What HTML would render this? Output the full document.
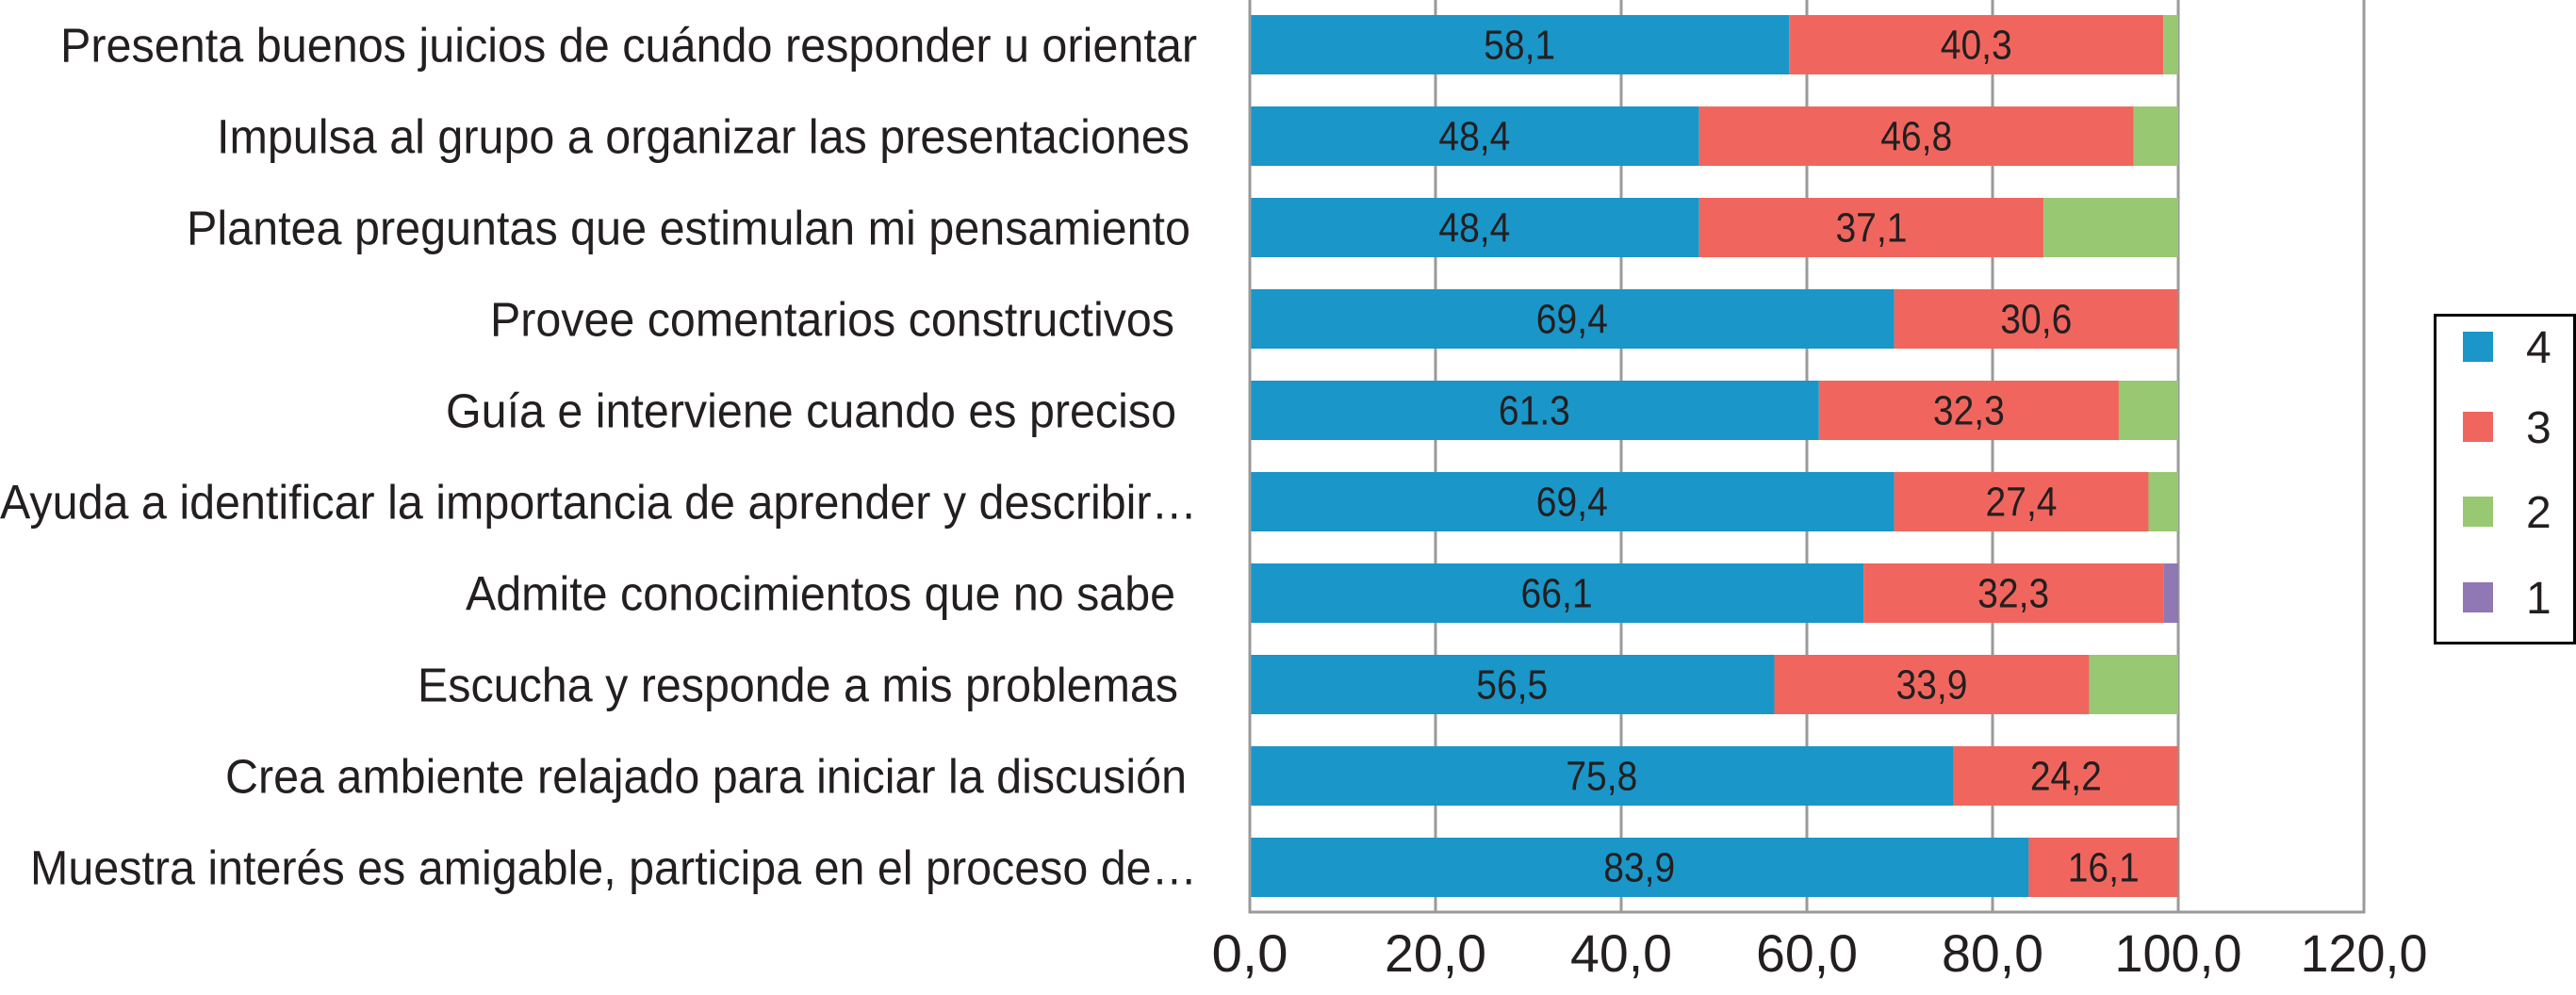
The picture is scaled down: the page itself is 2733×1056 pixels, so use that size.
<!DOCTYPE html>
<html><head><meta charset="utf-8">
<style>
html,body{margin:0;padding:0;background:#fff;}
svg{display:block;font-family:"Liberation Sans",sans-serif;}
</style></head>
<body>
<svg id="chart" width="2733" height="1056" viewBox="0 0 2733 1056" xmlns="http://www.w3.org/2000/svg">
<g id="grid"></g>
<g id="bars"></g>
<g id="axes"></g>
<g id="cats"></g>
<g id="ticks"></g>
<g id="legend">
  <rect x="2583.5" y="334.5" width="148" height="348" fill="#fff" stroke="#000" stroke-width="3"/>
</g>
</svg>
<script>
const categories = [
  "Presenta buenos juicios de cuándo responder u orientar",
  "Impulsa al grupo a organizar las presentaciones",
  "Plantea preguntas que estimulan mi pensamiento",
  "Provee comentarios constructivos",
  "Guía e interviene cuando es preciso",
  "Ayuda a identificar la importancia de aprender y describir…",
  "Admite conocimientos que no sabe",
  "Escucha y responde a mis problemas",
  "Crea ambiente relajado para iniciar la discusión",
  "Muestra interés es amigable, participa en el proceso de…"
];
const series4 = [58.1, 48.4, 48.4, 69.4, 61.3, 69.4, 66.1, 56.5, 75.8, 83.9];
const series3 = [40.3, 46.8, 37.1, 30.6, 32.3, 27.4, 32.3, 33.9, 24.2, 16.1];
const series2 = [1.6, 4.8, 14.5, 0, 6.4, 3.2, 0, 9.6, 0, 0];
const series1 = [0, 0, 0, 0, 0, 0, 1.6, 0, 0, 0];
const labels4 = ["58,1","48,4","48,4","69,4","61.3","69,4","66,1","56,5","75,8","83,9"];
const labels3 = ["40,3","46,8","37,1","30,6","32,3","27,4","32,3","33,9","24,2","16,1"];
const tickValues = [0, 20, 40, 60, 80, 100, 120];
const tickLabels = ["0,0","20,0","40,0","60,0","80,0","100,0","120,0"];
const legendNames = ["4","3","2","1"];

const NS = "http://www.w3.org/2000/svg";
const X0 = 1326, PXU = 9.85, AXISY = 968;
const colors = ["#1a96c8","#f0665e","#98c872","#8f78b4"];
const catLeft  = [64,230,198,520,473,0,494,443,239,32];
const catRight = [1270,1262,1263,1246,1248,1270,1247,1250,1259,1270];
function x(v){ return X0 + v*PXU; }
function yTop(i){ return 16 + i*97; }
const BH = 63;
function mk(tag, attrs, parent){
  const el = document.createElementNS(NS, tag);
  for (const k in attrs) el.setAttribute(k, attrs[k]);
  parent.appendChild(el);
  return el;
}
const grid = document.getElementById('grid');
tickValues.forEach(v=>{
  const l = mk('line',{x1:x(v),x2:x(v),y1:0,y2:AXISY,stroke:'#9a9a9a','stroke-width':3},grid);
  
  
});
const bars = document.getElementById('bars');
const allSeries = [series4, series3, series2, series1];
const segNames = ['bar-4','bar-3','bar-2','bar-1'];
categories.forEach((c,i)=>{
  let acc = 0;
  allSeries.forEach((s,k)=>{
    const v = s[i];
    if (v > 0){
      const r = mk('rect',{x:x(acc),y:yTop(i),width:v*PXU,height:BH,fill:colors[k]},bars);
      
      
    }
    if (k < 2){
      const t = mk('text',{x:x(acc+v/2),y:yTop(i)+BH/2+15,'font-size':44,'text-anchor':'middle',fill:'#231f20',textLength:76,lengthAdjust:'spacingAndGlyphs'},bars);
      t.textContent = (k===0?labels4:labels3)[i];
      
      
    }
    acc += v;
  });
});
const axes = document.getElementById('axes');
const ax1 = mk('line',{x1:X0,x2:X0,y1:0,y2:AXISY+1.5,stroke:'#9a9a9a','stroke-width':3},axes);


const ax2 = mk('line',{x1:X0,x2:x(120)+1.5,y1:AXISY,y2:AXISY,stroke:'#9a9a9a','stroke-width':3},axes);


const cats = document.getElementById('cats');
categories.forEach((c,i)=>{
  const t = mk('text',{x:catLeft[i],y:yTop(i)+BH/2+18,'font-size':51,fill:'#231f20',textLength:catRight[i]-catLeft[i],lengthAdjust:'spacingAndGlyphs'},cats);
  t.textContent = c;
  
  
});
const ticks = document.getElementById('ticks');
tickValues.forEach((v,i)=>{
  const t = mk('text',{x:x(v),y:1031,'font-size':56,'text-anchor':'middle',fill:'#231f20',textLength:tickLabels[i].length*27,lengthAdjust:'spacingAndGlyphs'},ticks);
  t.textContent = tickLabels[i];
  
  
});
const legend = document.getElementById('legend');
const legY = [368, 453, 543, 634];
legendNames.forEach((n,i)=>{
  const r = mk('rect',{x:2613,y:legY[i]-16,width:32,height:32,fill:colors[i]},legend);
  
  
  const t = mk('text',{x:2680,y:legY[i]+17,'font-size':48,fill:'#231f20'},legend);
  t.textContent = n;
  
  
});
</script>
</body></html>
